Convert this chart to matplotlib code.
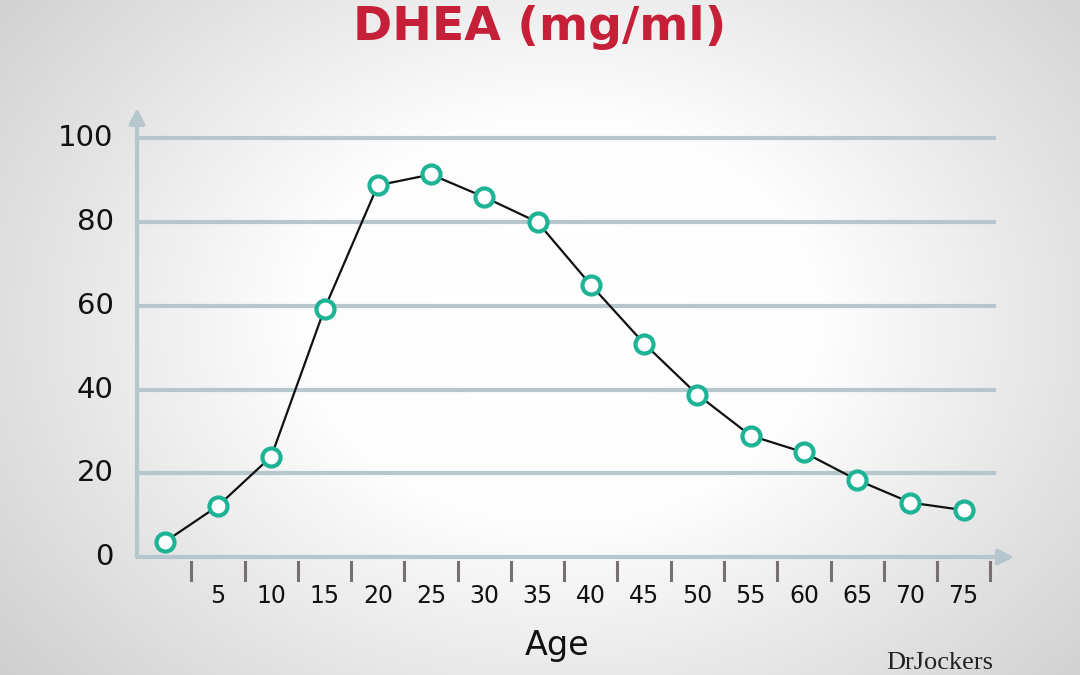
import numpy as np
import matplotlib.pyplot as plt
from matplotlib.colors import LinearSegmentedColormap

ages = [0, 5, 10, 15, 20, 25, 30, 35, 40, 45, 50, 55, 60, 65, 70, 75]
dhea = [3.6, 12.2, 24, 59.3, 88.8, 91.4, 86, 80, 65, 51, 38.8, 29, 25, 18.4, 13, 11.2]
x_labels = ["5", "10", "15", "20", "25", "30", "35", "40", "45", "50", "55", "60", "65", "70", "75"]
y_ticks = [0, 20, 40, 60, 80, 100]

fig = plt.figure(figsize=(10.8, 6.75), dpi=100)

# radial background
bg = fig.add_axes([0, 0, 1, 1])
yy, xx = np.mgrid[0:675, 0:1080]
r = np.sqrt(((xx - 560) / 720) ** 2 + ((yy - 320) / 560) ** 2)
cmap_bg = LinearSegmentedColormap.from_list("bg", ["#ffffff", "#fdfdfd", "#e2e2e2", "#c8c8c8"])
bg.imshow(np.clip(r, 0, 1.1), cmap=cmap_bg, vmin=0, vmax=1.1, aspect="auto")
bg.axis("off")

ax = fig.add_axes([137 / 1080, 118 / 675, 880 / 1080, 452 / 675])
ax.set_facecolor("none")
ax.set_xlim(-2.6, 80)
ax.set_ylim(0, 108)
axis_color = "#b5c7cc"
for s in ax.spines.values():
    s.set_visible(False)

for v in y_ticks[1:]:
    ax.plot([-2.6, 77.8], [v, v], color=axis_color, lw=3, zorder=1)
ax.annotate("", xy=(80, 0), xytext=(-2.7, 0),
            arrowprops=dict(arrowstyle="-|>,head_length=0.9,head_width=0.45", color=axis_color, lw=3), zorder=2)
ax.annotate("", xy=(-2.6, 108), xytext=(-2.6, -0.7),
            arrowprops=dict(arrowstyle="-|>,head_length=0.9,head_width=0.45", color=axis_color, lw=3), zorder=2)

for t in np.arange(2.5, 80, 5):
    ax.plot([t, t], [-1.2, -5.5], color="#777070", lw=2.2, clip_on=False)

ax.set_xticks([])
ax.set_yticks([])
for a, lab in zip(ages[1:], x_labels):
    ax.text(a, -9.2, lab, ha="center", va="center", fontsize=17, color="#111111", clip_on=False)
for v in y_ticks:
    ax.text(-4.8, v, str(v), ha="right", va="center", fontsize=21, color="#111111", clip_on=False)

ax.plot(ages, dhea, color="#111111", lw=1.6, zorder=3)
ax.plot(ages, dhea, "o", ms=13, mfc="white", mec="#1db394", mew=3, zorder=4)

fig.text(0.5, 1 - 28 / 675, "DHEA (mg/ml)", ha="center", va="center",
         fontsize=34, fontweight="bold", color="#c61f38")
fig.text(557 / 1080, 1 - 645 / 675, "Age", ha="center", va="center", fontsize=24, color="#111111")
fig.text(940 / 1080, 0.002, "DrJockers", ha="center", va="bottom", fontsize=19,
         family="Liberation Serif", color="#222222")

fig.savefig("out.png", dpi=100)
